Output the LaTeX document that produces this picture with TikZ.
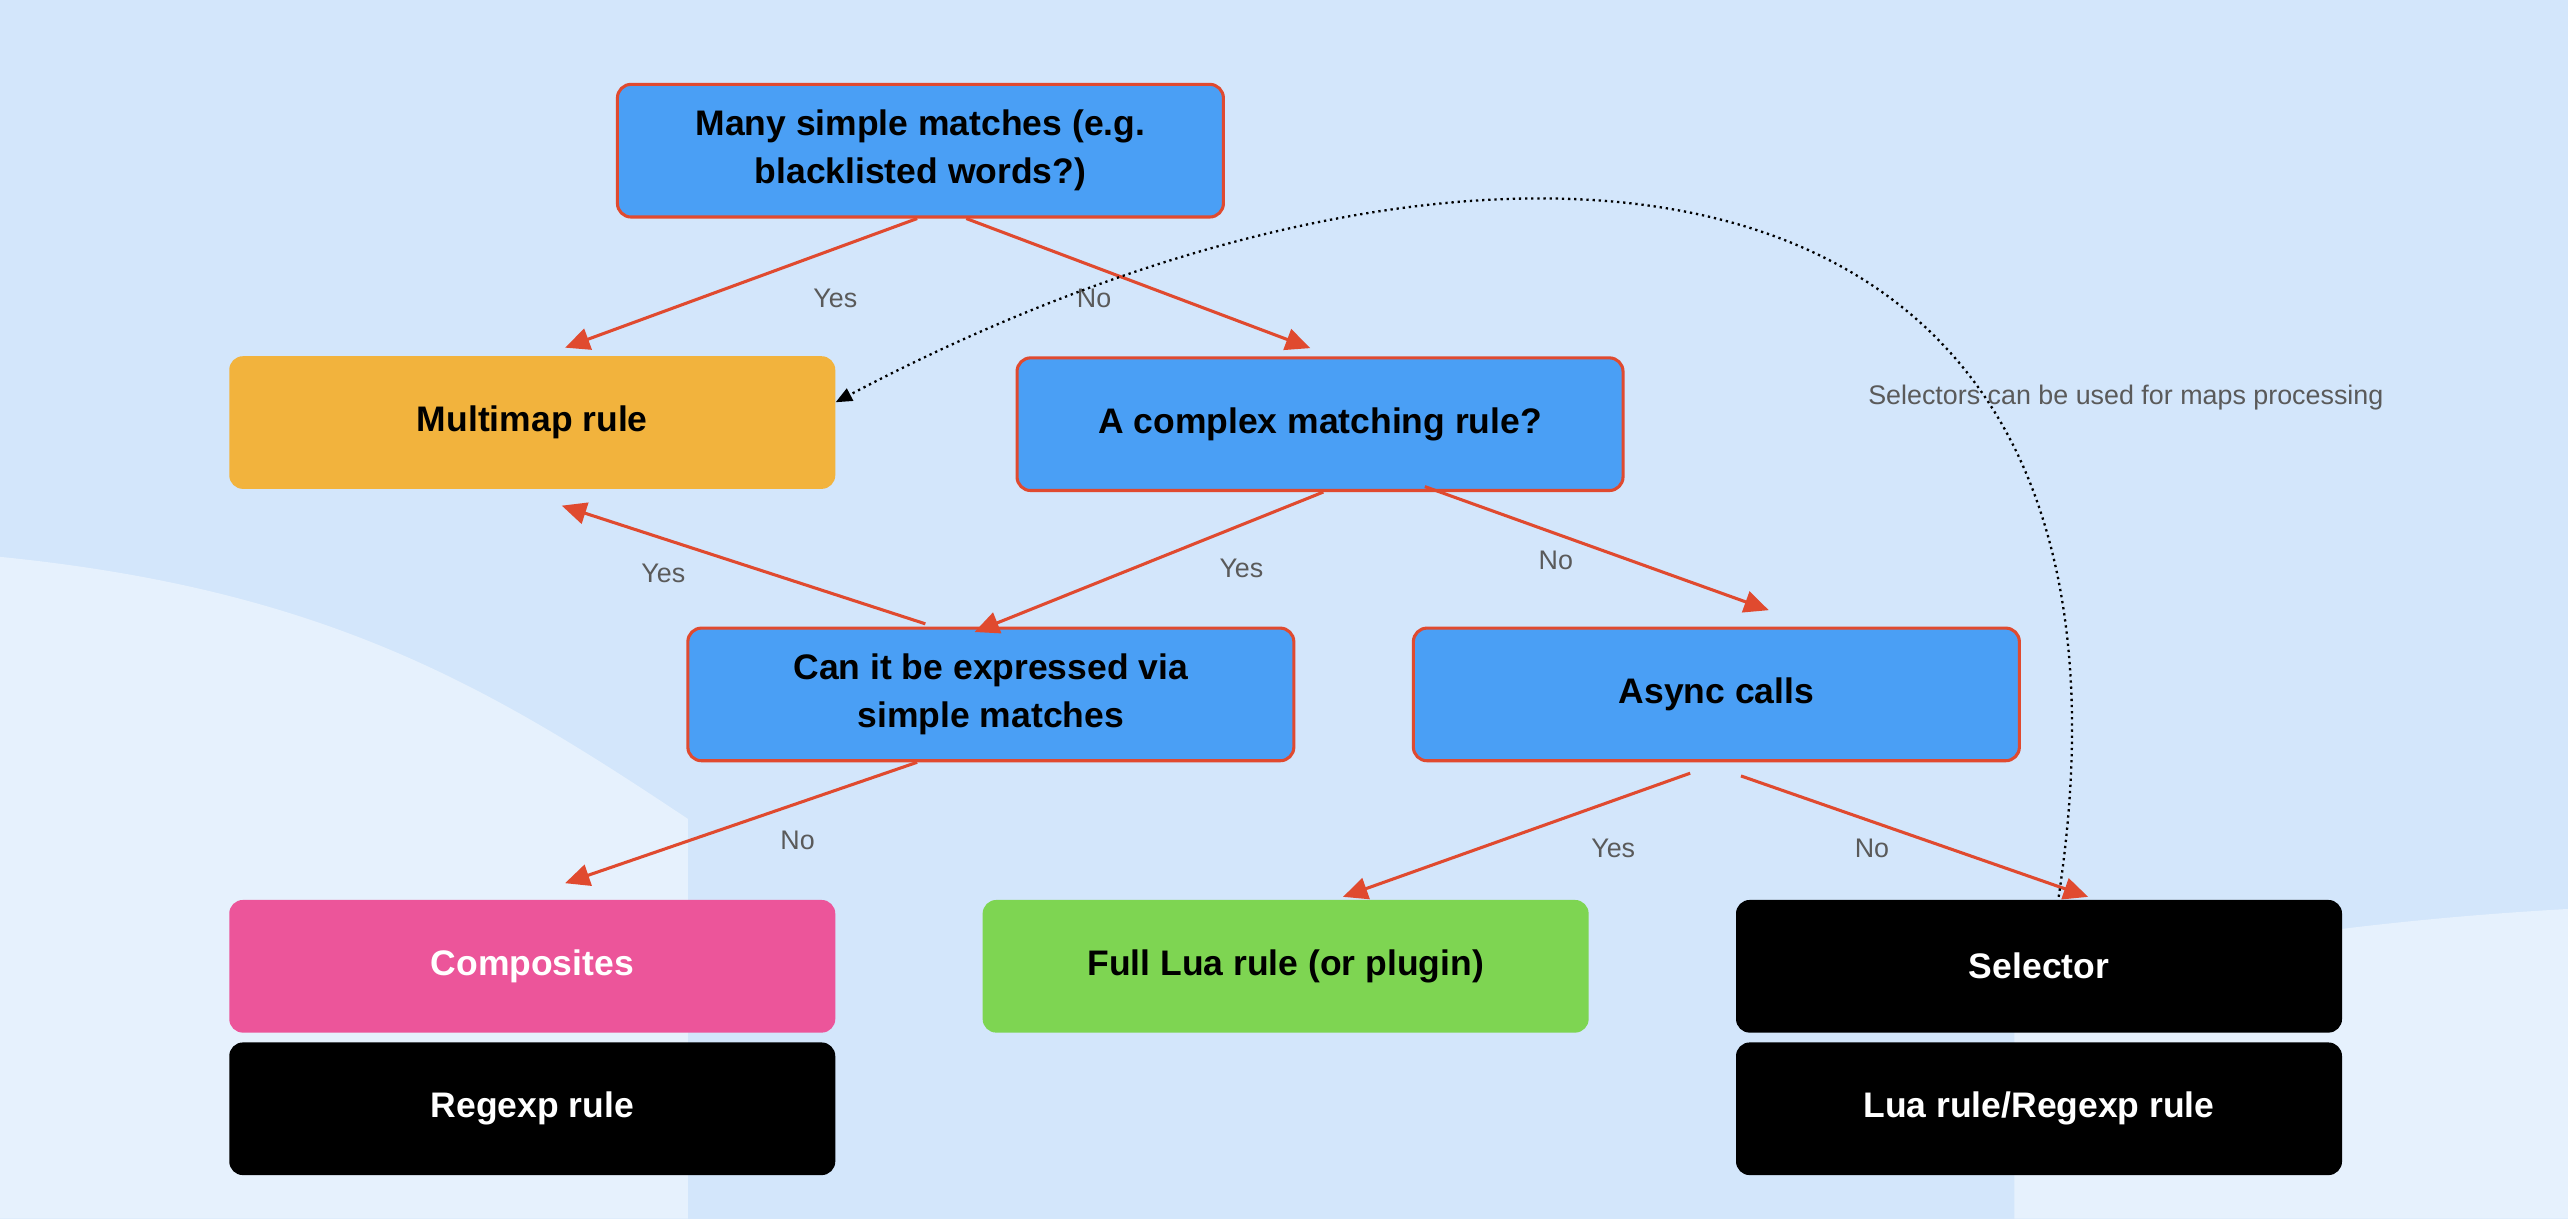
\documentclass[tikz,border=0pt]{standalone}
\usepackage{fontspec}
\setmainfont{Liberation Sans}
\usetikzlibrary{arrows.meta,calc}
\definecolor{bg}{HTML}{D3E6FB}
\definecolor{bgl}{HTML}{E6F1FD}
\definecolor{qblue}{HTML}{4A9FF5}
\definecolor{qred}{HTML}{E04A2F}
\definecolor{qorange}{HTML}{F2B33D}
\definecolor{qpink}{HTML}{EC559A}
\definecolor{qgreen}{HTML}{7ED552}
\definecolor{lbl}{HTML}{5A5A5A}
\begin{document}
\begin{tikzpicture}[x=0.03cm,y=-0.03cm,
 box/.style={rounded corners=0.25cm,minimum width=11.1cm,minimum height=2.43cm,align=center,font=\fontsize{18.5}{25}\selectfont\bfseries,inner sep=0pt},
 q/.style={box,fill=qblue,draw=qred,line width=1.6pt},
 ans/.style={box,draw=none},
 arr/.style={draw=qred,line width=1.6pt,-{Triangle[length=0.45cm,width=0.4cm]}},
 lab/.style={text=lbl,font=\fontsize{14}{16}\selectfont}]
\useasboundingbox (0,0) rectangle (1568,744);
\fill[bg] (0,0) rectangle (1568,744);
\fill[bgl] (0,340) .. controls (200,360) and (300,420) .. (420,500) -- (420,744) -- (0,744) -- cycle;
\fill[bgl] (1230,600) .. controls (1380,570) and (1480,560) .. (1568,555) -- (1568,744) -- (1230,744) -- cycle;
\node[q] (top) at (562,92) {Many simple matches (e.g.\\blacklisted words?)};
\node[ans,fill=qorange] (mm) at (325,258) {Multimap rule};
\node[q] (cx) at (806,259) {A complex matching rule?};
\node[q] (can) at (605,424) {Can it be expressed via\\simple matches};
\node[q] (as) at (1048,424) {Async calls};
\node[ans,fill=qpink,text=white] (comp) at (325,590) {Composites};
\node[ans,fill=black,text=white] (re) at (325,677) {Regexp rule};
\node[ans,fill=qgreen] (lua) at (785,590) {Full Lua rule (or plugin)};
\node[ans,fill=black,text=white] (sel) at (1245,590) {Selector};
\node[ans,fill=black,text=white] (lr) at (1245,677) {Lua rule/Regexp rule};
\draw[arr] ([xshift=-0.06cm]top.south) -- ([xshift=0.6cm,yshift=0.15cm]mm.north);
\draw[arr] ([xshift=0.84cm]top.south) -- ([xshift=-0.18cm,yshift=0.15cm]cx.north);
\draw[arr] ([xshift=0.06cm]cx.south) -- ([xshift=-0.3cm,yshift=-0.1cm]can.north);
\draw[arr] ([xshift=1.92cm,yshift=0.1cm]cx.south) -- ([xshift=0.96cm,yshift=0.3cm]as.north);
\draw[arr] ([xshift=-1.2cm,yshift=0.05cm]can.north) -- ([xshift=0.54cm,yshift=-0.3cm]mm.south);
\draw[arr] ([xshift=-1.35cm]can.south) -- ([xshift=0.6cm,yshift=0.3cm]comp.north);
\draw[arr] ([xshift=-0.48cm,yshift=-0.2cm]as.south) -- ([xshift=1.05cm,yshift=0.05cm]lua.north);
\draw[arr] ([xshift=0.45cm,yshift=-0.25cm]as.south) -- ([xshift=0.9cm,yshift=0.05cm]sel.north);
\node[lab] at (510,182) {Yes};
\node[lab] at (668,182) {No};
\node[lab] at (758,347) {Yes};
\node[lab] at (950,342) {No};
\node[lab] at (405,350) {Yes};
\node[lab] at (487,513) {No};
\node[lab] at (985,518) {Yes};
\node[lab] at (1143,518) {No};
\coordinate (c1) at (1257,548);
\draw[dotted,line width=1.2pt,-{Triangle[length=0.3cm,width=0.25cm]}] ([xshift=0.36cm,yshift=0.05cm]sel.north) .. controls (1330,60) and (900,40) .. ([yshift=-0.85cm]mm.north east);
\node[lab] at (1298,243) {Selectors can be used for maps processing};
\end{tikzpicture}
\end{document}
